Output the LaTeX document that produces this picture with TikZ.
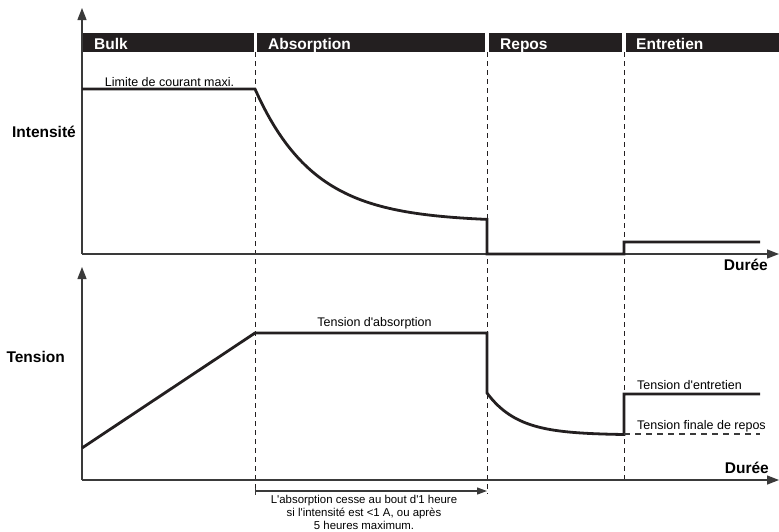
\documentclass[tikz,border=0pt]{standalone}
\usepackage{fontspec}
\setmainfont{Liberation Sans}
\usetikzlibrary{arrows.meta}

\definecolor{inkblack}{HTML}{231F20}
\definecolor{axisgray}{HTML}{3A3A3A}

\tikzset{
  axis/.style={draw=axisgray, line width=1.3pt, -{Triangle[length=12pt,width=9pt]}},
  curve/.style={draw=inkblack, line width=2.8pt, line join=miter},
  phase/.style={draw=inkblack, line width=1pt, dash pattern=on 5pt off 4pt},
  header/.style={fill=inkblack, draw=none},
  headlabel/.style={text=white, font=\fontsize{15.5}{18}\selectfont\bfseries, anchor=base west, inner sep=0pt},
  axislabel/.style={font=\fontsize{15.5}{18}\selectfont\bfseries, inner sep=0pt},
  smalllabel/.style={font=\fontsize{12.5}{15}\selectfont, inner sep=0pt}
}

\begin{document}
\begin{tikzpicture}[x=1pt, y=-1pt]
	\useasboundingbox (0,0) rectangle (779,531);

	% Phase bar
	\fill[header] (81,33) rectangle (254,52);
	\fill[header] (257,33) rectangle (485,52);
	\fill[header] (489,33) rectangle (622,52);
	\fill[header] (626,33) rectangle (779,52);
	\node[headlabel] (bulk) at (94,49) {Bulk};
	\node[headlabel] (absorption) at (268,49) {Absorption};
	\node[headlabel] (repos) at (500,49) {Repos};
	\node[headlabel] (entretien) at (636,49) {Entretien};

	% Phase limits
	\coordinate (p1top) at (255,52);
	\coordinate (p1bot) at (255,494);
	\coordinate (p2top) at (487,52);
	\coordinate (p2bot) at (487,494);
	\coordinate (p3top) at (624,52);
	\coordinate (p3bot) at (624,479);
	\draw[phase] (p1top) -- (p1bot);
	\draw[phase] (p2top) -- (p2bot);
	\draw[phase] (p3top) -- (p3bot);

	% Axes
	\coordinate (o1) at (82,254);
	\coordinate (y1) at (82,8);
	\coordinate (x1) at (779,254);
	\coordinate (o2) at (82,480);
	\coordinate (y2) at (82,267);
	\coordinate (x2) at (779,480);
	\draw[axis] (o1) -- (y1);
	\draw[axis] (o1) -- (x1);
	\draw[axis] (o2) -- (y2);
	\draw[axis] (o2) -- (x2);

	\node[axislabel, anchor=base east] (intensite) at (76,137) {Intensité};
	\node[axislabel, anchor=base east] (tension) at (65,362) {Tension};
	\node[axislabel, anchor=base east] (duree1) at (768,270) {Durée};
	\node[axislabel, anchor=base east] (duree2) at (769,473) {Durée};

	% Intensity curve
	\coordinate (i0) at (82,89);
	\coordinate (i1) at (255,89);
	\coordinate (i2) at (487,254);
	\coordinate (i3) at (624,254);
	\coordinate (i4) at (624,242);
	\coordinate (i5) at (760,242);
	\draw[curve] (i0) -- (i1)
		-- plot[domain=255:487, samples=60] (\x, {222-133*exp(-(\x-255)/59)})
		-- (i2) -- (i3) -- (i4) -- (i5);
	\node[smalllabel, anchor=base] (limite) at (169.5,86) {Limite de courant maxi.};

	% Voltage curve
	\coordinate (t0) at (82,448);
	\coordinate (t1) at (255,333);
	\coordinate (t2) at (487,333);
	\coordinate (t3) at (487,393);
	\coordinate (t4) at (624,394);
	\coordinate (t5) at (760,394);
	\coordinate (f0) at (624,434);
	\coordinate (f1) at (760,434);
	\draw[curve] (t0) -- (t1) -- (t2) -- (t3)
		-- plot[domain=487:624, samples=50] (\x, {435-42*exp(-(\x-487)/31)})
		-- (t4) -- (t5);
	\draw[axisgray, line width=1.8pt, dash pattern=on 6pt off 5pt] (f0) -- (f1);
	\node[smalllabel, anchor=base] (tabs) at (374.5,326) {Tension d\textquotesingle{}absorption};
	\node[smalllabel, anchor=base west] (tent) at (637,389) {Tension d\textquotesingle{}entretien};
	\node[smalllabel, anchor=base west] (tfin) at (637,429) {Tension finale de repos};

	% Absorption time limit
	\coordinate (b0) at (255,491);
	\coordinate (b1) at (487,491);
	\draw[axisgray, line width=1.2pt, {Bar[width=7pt]}-{Triangle[length=10pt,width=7pt]}] (b0) -- (b1);
	\node[font=\fontsize{11.4}{12.8}\selectfont, align=center, anchor=north, inner sep=0pt] (note) at (364,495.5)
		{L\textquotesingle{}absorption cesse au bout d\textquotesingle{}1 heure\\si l\textquotesingle{}intensité est <1 A, ou après\\5 heures maximum.};
\end{tikzpicture}
\end{document}
